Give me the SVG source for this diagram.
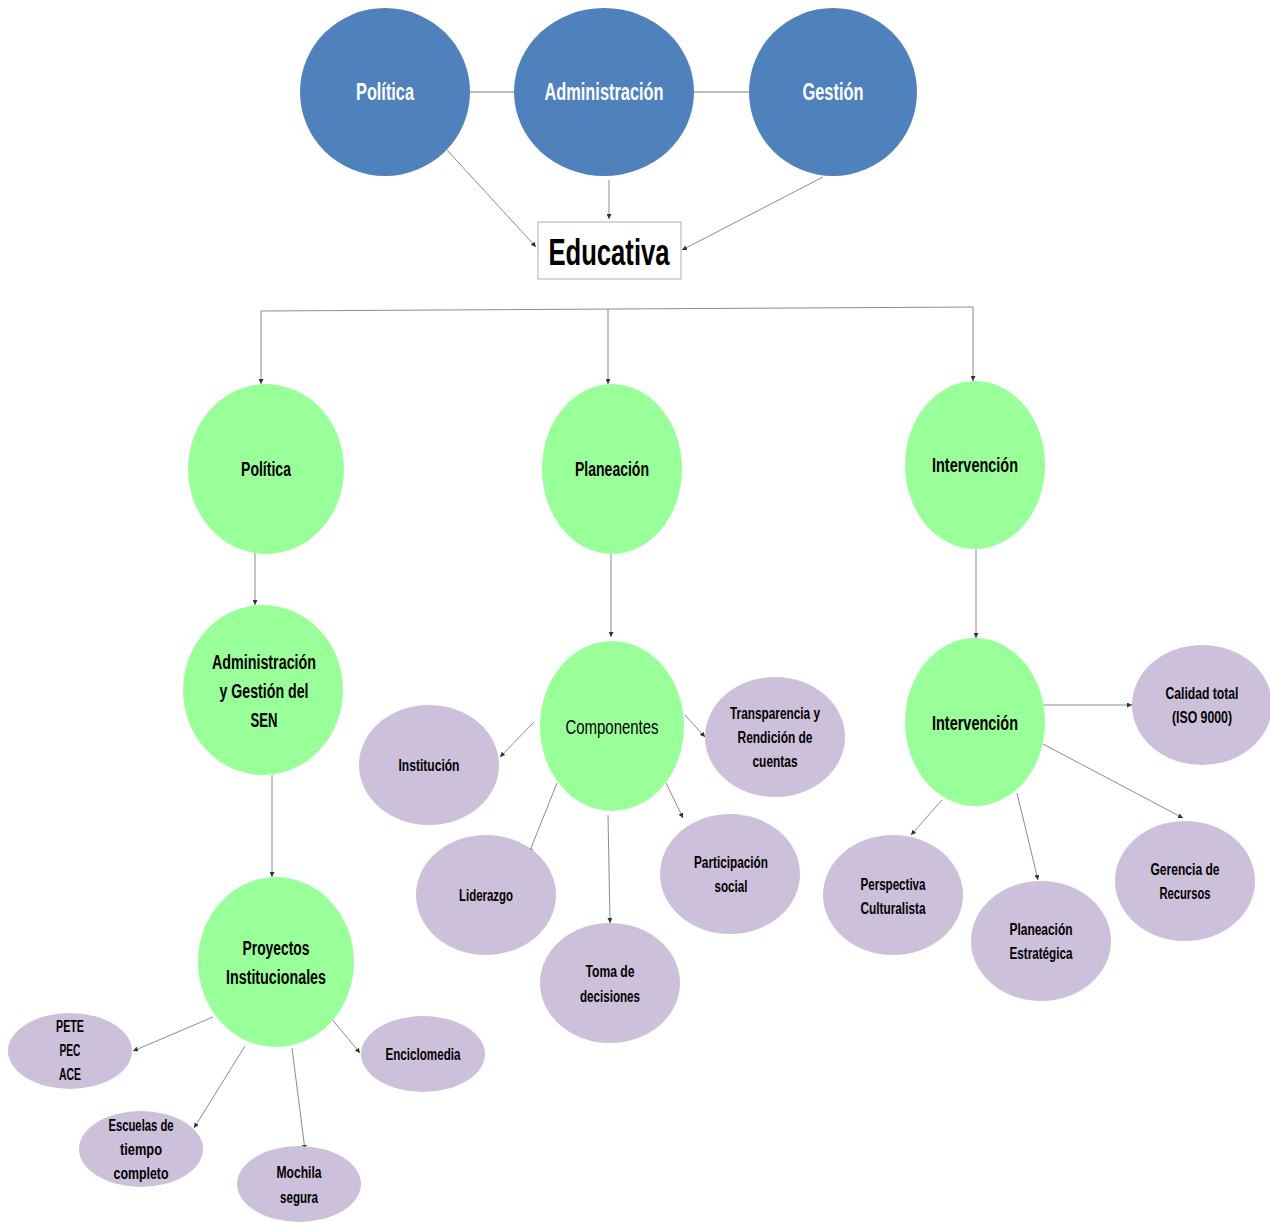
<svg xmlns="http://www.w3.org/2000/svg" width="1270" height="1223" viewBox="0 0 1270 1223">
<defs>
<marker id="ah" viewBox="0 0 6 6" refX="6" refY="3" markerWidth="5" markerHeight="5" markerUnits="userSpaceOnUse" orient="auto">
<path d="M0,0 L6,3 L0,6 z" fill="#333"/>
</marker>
<style>
.t{font-family:"Liberation Sans Narrow","Liberation Sans",Arial,sans-serif;font-weight:bold;text-anchor:middle;fill:#000}
.w{fill:#fff}
.blue{fill:#4f81bd}
.green{fill:#99ff99}
.purple{fill:#ccc0da}
.c{stroke:#8c8c8c;stroke-width:1;fill:none;marker-end:url(#ah)}
.p{stroke:#8c8c8c;stroke-width:1;fill:none}
.s16{font-size:16px}
.s20{font-size:20px}
</style>
</defs>
<rect width="1270" height="1223" fill="#fff"/>

<g id="connectors">
<line x1="470" y1="92" x2="514" y2="92" stroke="#c0c0c0" stroke-width="2"/>
<line x1="694" y1="92" x2="749" y2="92" stroke="#c0c0c0" stroke-width="2"/>
<line class="c" x1="447" y1="150" x2="536" y2="247"/>
<line class="c" x1="609" y1="180" x2="609" y2="219"/>
<line class="c" x1="823" y1="177" x2="682" y2="250"/>
<line class="p" x1="261" y1="311" x2="973" y2="307"/>
<line class="c" x1="261" y1="311" x2="261" y2="384"/>
<line class="c" x1="608" y1="309" x2="608" y2="384"/>
<line class="c" x1="973" y1="307" x2="973" y2="381"/>
<line class="c" x1="255" y1="553" x2="255" y2="605"/>
<line class="c" x1="272" y1="775" x2="272" y2="877"/>
<line class="c" x1="611" y1="553" x2="611" y2="637"/>
<line class="c" x1="976" y1="549" x2="976" y2="638"/>
<line class="c" x1="534" y1="722" x2="500" y2="757"/>
<line class="c" x1="685" y1="715" x2="705" y2="737"/>
<line class="c" x1="557" y1="783" x2="529" y2="853"/>
<line class="c" x1="608" y1="815" x2="610" y2="923"/>
<line class="c" x1="666" y1="783" x2="683" y2="818"/>
<line class="c" x1="1043" y1="705" x2="1132" y2="705"/>
<line class="c" x1="1043" y1="744" x2="1183" y2="818"/>
<line class="c" x1="1017" y1="793" x2="1038" y2="880"/>
<line class="c" x1="942" y1="800" x2="911" y2="835"/>
<line class="c" x1="213" y1="1017" x2="133" y2="1051"/>
<line class="c" x1="245" y1="1046" x2="194" y2="1128"/>
<line class="c" x1="292" y1="1048" x2="305" y2="1150"/>
<line class="c" x1="330" y1="1017" x2="360" y2="1053"/>
</g>

<g id="n-politica-top"><ellipse class="blue" cx="385" cy="92" rx="85" ry="84"/><text class="t w" x="385" y="100" font-size="23" textLength="58" lengthAdjust="spacingAndGlyphs">Política</text></g>
<g id="n-administracion-top"><ellipse class="blue" cx="604" cy="92" rx="90" ry="84"/><text class="t w" x="604" y="100" font-size="23" textLength="119" lengthAdjust="spacingAndGlyphs">Administración</text></g>
<g id="n-gestion-top"><ellipse class="blue" cx="833" cy="92" rx="84" ry="84"/><text class="t w" x="833" y="100" font-size="23" textLength="61" lengthAdjust="spacingAndGlyphs">Gestión</text></g>

<g id="n-educativa"><rect x="538" y="222" width="143" height="57" fill="#fff" stroke="#b0b0b0" stroke-width="1"/><text class="t" x="609" y="265" font-size="37" textLength="121" lengthAdjust="spacingAndGlyphs">Educativa</text></g>

<g id="n-politica"><ellipse class="green" cx="266" cy="469" rx="78" ry="85"/><text class="t s20" x="266" y="476" textLength="50" lengthAdjust="spacingAndGlyphs">Política</text></g>
<g id="n-planeacion"><ellipse class="green" cx="612" cy="469" rx="70" ry="85"/><text class="t s20" x="612" y="476" textLength="74" lengthAdjust="spacingAndGlyphs">Planeación</text></g>
<g id="n-intervencion-top"><ellipse class="green" cx="975" cy="465" rx="70" ry="84"/><text class="t s20" x="975" y="472" textLength="86" lengthAdjust="spacingAndGlyphs">Intervención</text></g>

<g id="n-admgestion"><ellipse class="green" cx="263" cy="690" rx="80" ry="85"/>
<text class="t s20" x="264" y="669" textLength="104" lengthAdjust="spacingAndGlyphs">Administración</text>
<text class="t s20" x="264" y="698" textLength="89" lengthAdjust="spacingAndGlyphs">y Gestión del</text>
<text class="t s20" x="264" y="727" textLength="27" lengthAdjust="spacingAndGlyphs">SEN</text></g>

<g id="n-proyectos"><ellipse class="green" cx="276" cy="962" rx="78" ry="85"/>
<text class="t s20" x="276" y="955" textLength="67" lengthAdjust="spacingAndGlyphs">Proyectos</text>
<text class="t s20" x="276" y="984" textLength="100" lengthAdjust="spacingAndGlyphs">Institucionales</text></g>

<g id="n-componentes"><ellipse class="green" cx="612" cy="726" rx="72" ry="85"/>
<text class="t s20" x="612" y="734" font-weight="normal" style="font-weight:normal" textLength="93" lengthAdjust="spacingAndGlyphs">Componentes</text></g>

<g id="n-intervencion"><ellipse class="green" cx="975" cy="722" rx="70" ry="84"/><text class="t s20" x="975" y="730" textLength="86" lengthAdjust="spacingAndGlyphs">Intervención</text></g>

<g id="n-institucion"><ellipse class="purple" cx="429" cy="765" rx="70" ry="60"/><text class="t s16" x="429" y="771" textLength="61" lengthAdjust="spacingAndGlyphs">Institución</text></g>
<g id="n-transparencia"><ellipse class="purple" cx="775" cy="737" rx="70" ry="60"/>
<text class="t s16" x="775" y="719" textLength="90" lengthAdjust="spacingAndGlyphs">Transparencia y</text>
<text class="t s16" x="775" y="743" textLength="75" lengthAdjust="spacingAndGlyphs">Rendición de</text>
<text class="t s16" x="775" y="767" textLength="45" lengthAdjust="spacingAndGlyphs">cuentas</text></g>
<g id="n-liderazgo"><ellipse class="purple" cx="486" cy="895" rx="70" ry="60"/><text class="t s16" x="486" y="901" textLength="54" lengthAdjust="spacingAndGlyphs">Liderazgo</text></g>
<g id="n-toma"><ellipse class="purple" cx="610" cy="983" rx="70" ry="60"/>
<text class="t s16" x="610" y="977" textLength="49" lengthAdjust="spacingAndGlyphs">Toma de</text>
<text class="t s16" x="610" y="1002" textLength="60" lengthAdjust="spacingAndGlyphs">decisiones</text></g>
<g id="n-participacion"><ellipse class="purple" cx="730" cy="874" rx="70" ry="60"/>
<text class="t s16" x="731" y="868" textLength="74" lengthAdjust="spacingAndGlyphs">Participación</text>
<text class="t s16" x="731" y="892" textLength="33" lengthAdjust="spacingAndGlyphs">social</text></g>

<g id="n-calidad"><ellipse class="purple" cx="1202" cy="705" rx="70" ry="60"/>
<text class="t s16" x="1202" y="699" textLength="73" lengthAdjust="spacingAndGlyphs">Calidad total</text>
<text class="t s16" x="1202" y="723" textLength="60" lengthAdjust="spacingAndGlyphs">(ISO 9000)</text></g>
<g id="n-perspectiva"><ellipse class="purple" cx="893" cy="895" rx="70" ry="60"/>
<text class="t s16" x="893" y="890" textLength="65" lengthAdjust="spacingAndGlyphs">Perspectiva</text>
<text class="t s16" x="893" y="914" textLength="65" lengthAdjust="spacingAndGlyphs">Culturalista</text></g>
<g id="n-planestrat"><ellipse class="purple" cx="1041" cy="941" rx="70" ry="60"/>
<text class="t s16" x="1041" y="935" textLength="63" lengthAdjust="spacingAndGlyphs">Planeación</text>
<text class="t s16" x="1041" y="959" textLength="63" lengthAdjust="spacingAndGlyphs">Estratégica</text></g>
<g id="n-gerencia"><ellipse class="purple" cx="1185" cy="881" rx="70" ry="60"/>
<text class="t s16" x="1185" y="875" textLength="69" lengthAdjust="spacingAndGlyphs">Gerencia de</text>
<text class="t s16" x="1185" y="899" textLength="51" lengthAdjust="spacingAndGlyphs">Recursos</text></g>

<g id="n-pete"><ellipse class="purple" cx="70" cy="1051" rx="62" ry="38"/>
<text class="t s16" x="70" y="1032" textLength="28" lengthAdjust="spacingAndGlyphs">PETE</text>
<text class="t s16" x="70" y="1056" textLength="21" lengthAdjust="spacingAndGlyphs">PEC</text>
<text class="t s16" x="70" y="1080" textLength="22" lengthAdjust="spacingAndGlyphs">ACE</text></g>
<g id="n-escuelas"><ellipse class="purple" cx="141" cy="1149" rx="62" ry="38"/>
<text class="t s16" x="141" y="1131" textLength="65" lengthAdjust="spacingAndGlyphs">Escuelas de</text>
<text class="t s16" x="141" y="1155" textLength="42" lengthAdjust="spacingAndGlyphs">tiempo</text>
<text class="t s16" x="141" y="1179" textLength="55" lengthAdjust="spacingAndGlyphs">completo</text></g>
<g id="n-mochila"><ellipse class="purple" cx="299" cy="1184" rx="62" ry="38"/>
<text class="t s16" x="299" y="1178" textLength="45" lengthAdjust="spacingAndGlyphs">Mochila</text>
<text class="t s16" x="299" y="1203" textLength="38" lengthAdjust="spacingAndGlyphs">segura</text></g>
<g id="n-enciclomedia"><ellipse class="purple" cx="423" cy="1054" rx="62" ry="38"/>
<text class="t s16" x="423" y="1060" textLength="75" lengthAdjust="spacingAndGlyphs">Enciclomedia</text></g>
</svg>
